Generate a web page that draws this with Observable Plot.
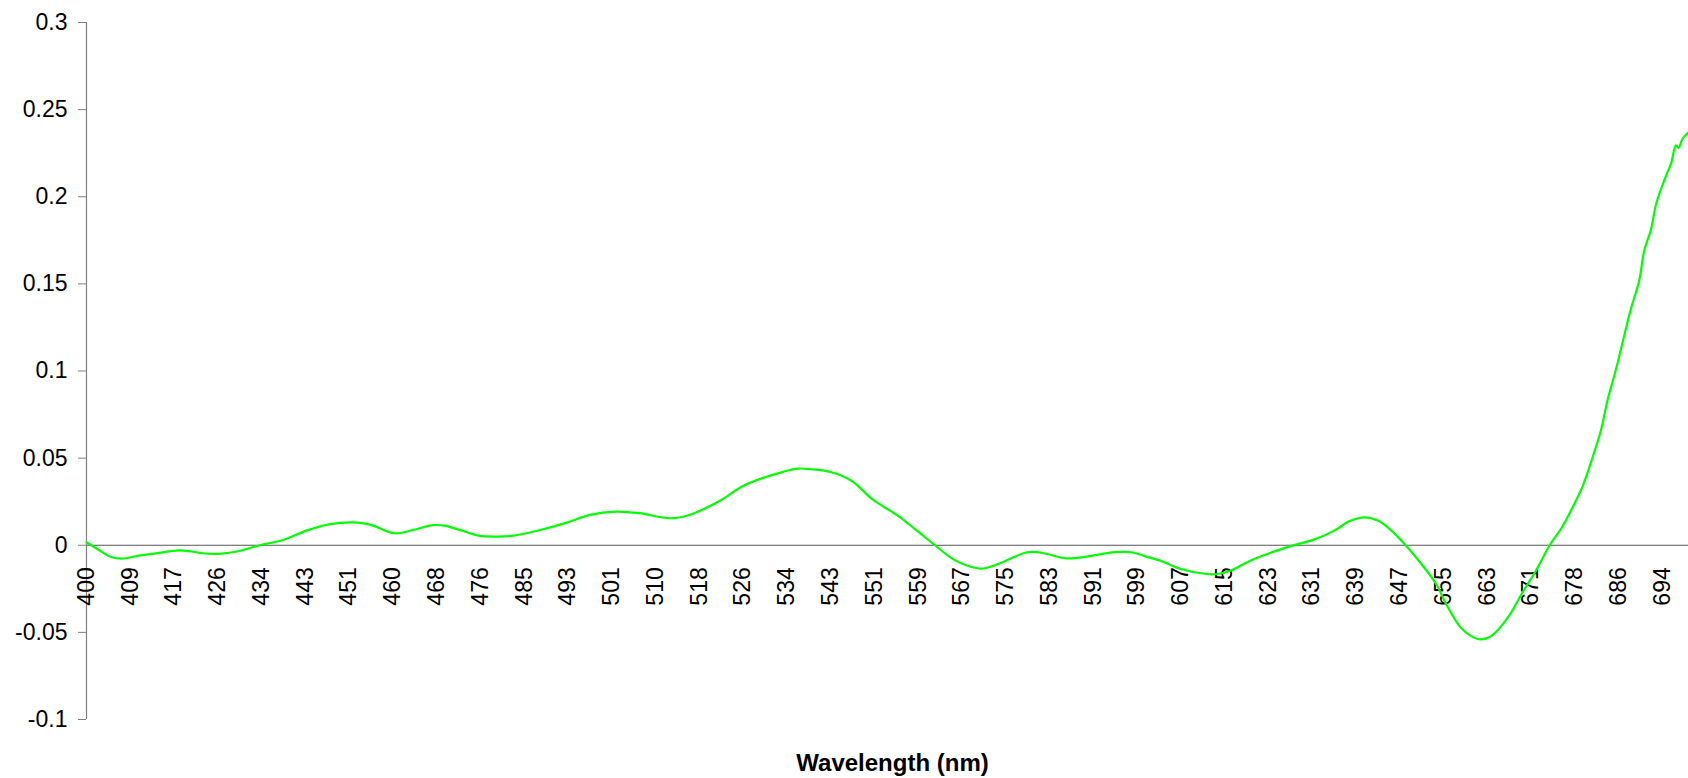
<!DOCTYPE html>
<html>
<head>
<meta charset="utf-8">
<script src="https://cdn.jsdelivr.net/npm/d3@7"></script>
<script src="https://cdn.jsdelivr.net/npm/@observablehq/plot@0.6"></script>
<style>
  html, body { margin: 0; padding: 0; background: #fff; }
  #chart { width: 1688px; height: 778px; }
</style>
</head>
<body>
<div id="chart"></div>
<script>
// Category tick labels along the x axis (wavelength, nm)
const xTickLabels = [400,409,417,426,434,443,451,460,468,476,485,493,501,510,518,526,534,543,551,559,567,575,583,591,599,607,615,623,631,639,647,655,663,671,678,686,694];

// Y axis tick values
const yTicks = [-0.1, -0.05, 0, 0.05, 0.1, 0.15, 0.2, 0.25, 0.3];

// Series: wavelength (nm) and value
const wavelengths = [
  400, 402.9, 405, 407.7, 410.3, 413, 418.1, 420.6, 422.9, 426.7,
  429.5, 433.7, 438.4, 443.2, 447.3, 452.8, 455.5, 460.3, 463.8, 467.3,
  469.4, 472.2, 475.7, 479.6, 482.8, 487.2, 492.8, 497, 501.9, 506.7,
  512.6, 516.2, 519.6, 522, 526, 530, 533.2, 536.2, 539.4, 543,
  546.8, 550.8, 555.1, 558.6, 562.1, 565.6, 569.8, 571.2, 574, 578.9,
  581, 586, 588, 595, 597.9, 600.7, 603.8, 607, 611.7, 613.6,
  616.1, 619.8, 626.8, 631.2, 634.9, 638, 640.6, 643.1, 645.6, 648.1,
  651.2, 653.7, 655.6, 658.1, 660, 661.9, 663.8, 666.9, 669.4, 671.8,
  674, 676, 677.7, 679.4, 681.3, 682.8, 684, 685.5, 686.7, 688.2,
  689.8, 690.7, 691.9, 692.9, 694.6, 695.6, 696.5, 697, 697.7, 698.8
];
const values = [
  0.0017, -0.0033, -0.0067, -0.0076, -0.0061, -0.0050, -0.0029, -0.0036, -0.0046, -0.0048,
  -0.0036, 0.0000, 0.0030, 0.0084, 0.0120, 0.0130, 0.0117, 0.0069, 0.0088, 0.0115,
  0.0113, 0.0088, 0.0055, 0.0050, 0.0055, 0.0082, 0.0130, 0.0174, 0.0193, 0.0184,
  0.0155, 0.0174, 0.0220, 0.0260, 0.0340, 0.0390, 0.0420, 0.0440, 0.0435, 0.0420,
  0.0370, 0.0260, 0.0174, 0.0088, 0.0000, -0.0084, -0.0132, -0.0132, -0.0103, -0.0040,
  -0.0040, -0.0075, -0.0073, -0.0040, -0.0040, -0.0065, -0.0095, -0.0136, -0.0165, -0.0165,
  -0.0146, -0.0087, -0.0008, 0.0031, 0.0081, 0.0140, 0.0160, 0.0140, 0.0081, 0.0000,
  -0.0116, -0.0224, -0.0343, -0.0470, -0.0520, -0.0540, -0.0520, -0.0410, -0.0274, -0.0146,
  0.0000, 0.0105, 0.0220, 0.0335, 0.0507, 0.0660, 0.0832, 0.1004, 0.1157, 0.1348,
  0.1520, 0.1690, 0.1807, 0.1960, 0.2113, 0.2190, 0.2295, 0.2280, 0.2333, 0.2370
];

const data = wavelengths.map((w, i) => ({wavelength: w, value: values[i]}));

// Category axis: labels are evenly spaced, so map wavelength to category position
const wlToPos = d3.scaleLinear().domain(xTickLabels).range(d3.range(xTickLabels.length));

const font = "'Liberation Sans', Arial, Helvetica, sans-serif";
const fmt = d => String(+d.toFixed(2));

const chart = Plot.plot({
  width: 1688,
  height: 778,
  marginLeft: 86,
  marginRight: 0,
  marginTop: 22,
  marginBottom: 59,
  style: {fontFamily: font, background: "#fff", color: "#000", overflow: "visible"},
  x: {type: "linear", domain: [0, wlToPos(d3.max(wavelengths))], axis: null},
  y: {domain: [-0.1, 0.3], axis: null},
  marks: [
    Plot.ruleY([0], {stroke: "#555", strokeWidth: 1.2}),
    Plot.ruleX([0], {y1: -0.1, y2: 0.3, stroke: "#808080", strokeWidth: 1.2}),
    Plot.axisY({
      ticks: yTicks, tickFormat: fmt, tickSize: 8, tickPadding: 11,
      fontSize: 23, stroke: "#808080", fill: "#000", label: null
    }),
    Plot.text(xTickLabels, {
      x: d => wlToPos(d), y: () => 0, text: d => String(d),
      rotate: -90, textAnchor: "end", lineAnchor: "middle",
      dy: 22, fontSize: 23, fill: "#000"
    }),
    Plot.line(data, {
      x: d => wlToPos(d.wavelength), y: "value",
      stroke: "#00ff00", strokeWidth: 2.2, curve: "catmull-rom"
    }),
    Plot.text(["Wavelength (nm)"], {
      frameAnchor: "bottom", dx: 5, dy: 44, lineAnchor: "middle",
      fontSize: 24, fontWeight: "bold", fill: "#000"
    })
  ]
});

document.getElementById("chart").appendChild(chart);
</script>
</body>
</html>
